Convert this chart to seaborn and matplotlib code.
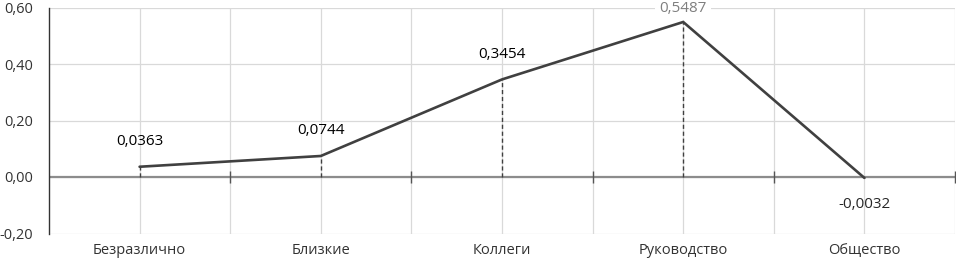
import matplotlib
matplotlib.use('Agg')
import matplotlib.pyplot as plt
import seaborn as sns
import pandas as pd
from matplotlib.ticker import FuncFormatter, FixedLocator

categories = ['Безразлично', 'Близкие', 'Коллеги', 'Руководство', 'Общество']
values = [0.0363, 0.0744, 0.3454, 0.5487, -0.0032]
y_ticks = [-0.20, 0.00, 0.20, 0.40, 0.60]

df = pd.DataFrame({'cat': categories, 'val': values})
df['pos'] = range(len(df))

sns.set_style('white')
plt.rcParams['font.family'] = ['Open Sans', 'DejaVu Sans']

fig = plt.figure(figsize=(9.56, 2.64), dpi=100)
ax = fig.add_axes([49 / 956, 30.5 / 264, 906 / 956, 226 / 264])

grid_c = '#d9d9d9'
line_c = '#404040'
fs = 10.5
lfs = 11

sns.lineplot(data=df, x='pos', y='val', ax=ax, color=line_c, linewidth=1.9, zorder=4)
ax.vlines(df['pos'], 0, df['val'], colors=line_c, linestyles=(0, (3, 2)), linewidth=1.0, zorder=3)

ax.set_xlim(-0.5, len(categories) - 0.5)
ax.set_ylim(y_ticks[0], y_ticks[-1])

# grid
ax.set_xticks(df['pos'])
ax.set_xticklabels(categories)
bounds = [i + 0.5 for i in range(len(categories))]
ax.xaxis.set_minor_locator(FixedLocator(bounds))
ax.set_yticks(y_ticks)
ax.yaxis.set_major_formatter(FuncFormatter(lambda v, p: f'{v:.2f}'.replace('.', ',').replace('-0,00', '0,00')))
ax.grid(True, which='both', axis='x', color=grid_c, linewidth=0.9)
ax.grid(True, which='major', axis='y', color=grid_c, linewidth=0.9)
ax.set_axisbelow(True)

for s in ['top', 'right', 'bottom']:
    ax.spines[s].set_visible(False)
ax.spines['left'].set_color('#333333')
ax.spines['left'].set_linewidth(1.0)

ax.tick_params(axis='x', which='both', length=0, pad=7, labelsize=fs, labelcolor='#333333')
ax.tick_params(axis='y', length=4.5, width=1.0, color='#333333', direction='out', pad=7,
               labelsize=fs, labelcolor='#333333')

# zero axis with category boundary ticks
ax.axhline(0, color='#8c8c8c', linewidth=1.6, zorder=2)
sec = ax.secondary_xaxis(0, transform=ax.transData)
sec.set_zorder(6)
sec.set_xticks(bounds)
sec.set_xticklabels([])
sec.spines['bottom'].set_visible(False)
sec.tick_params(direction='inout', length=9, width=1.0, color='#555555')
for t in sec.xaxis.get_major_ticks():
    t.tick1line.set_clip_on(False)

ax.set_xlabel('')
ax.set_ylabel('')

# data labels
top_idx = df['val'].idxmax()
for i, r in df.iterrows():
    txt = f"{r['val']:.4f}".replace('.', ',')
    if r['val'] < 0:
        ax.annotate(txt, (r['pos'], r['val']), xytext=(0, -19), textcoords='offset points',
                    ha='center', va='center', fontsize=lfs, color='#262626')
    elif i == top_idx:
        ax.annotate(txt, (r['pos'], r['val']), xytext=(0, 10), textcoords='offset points',
                    ha='center', va='center', fontsize=lfs, color='#7f7f7f',
                    bbox=dict(boxstyle='square,pad=0.3', fc='white', ec='none'), zorder=5,
                    annotation_clip=False)
    else:
        ax.annotate(txt, (r['pos'], r['val']), xytext=(0, 18), textcoords='offset points',
                    ha='center', va='center', fontsize=lfs, color='black')

fig.savefig('out.png', dpi=100)
